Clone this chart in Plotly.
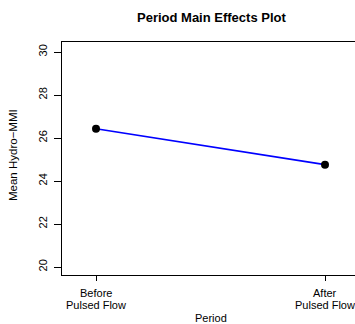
import plotly.graph_objects as go

# Group means of the Hydro-MMI index for each flow period
periods = ["Before\nPulsed Flow", "After\nPulsed Flow"]
positions = [1, 2]
means = [26.43, 24.76]
y_ticks = [20, 22, 24, 26, 28, 30]

W, H = 355, 324
L, R, T, B = 62, 0, 42, 49
pw, ph = W - L - R, H - T - B

def px_x(p):
    return (p - L) / pw

def px_y(p):
    return (H - B - p) / ph

font = dict(family="Liberation Sans, Arial, sans-serif", color="black")

fig = go.Figure()
fig.add_trace(go.Scatter(
    x=positions, y=means, mode="lines",
    line=dict(color="#0000ff", width=1.6),
    hoverinfo="skip", showlegend=False,
))
fig.add_trace(go.Scatter(
    x=positions, y=means, mode="markers",
    marker=dict(color="black", size=8, line=dict(width=0)),
    showlegend=False,
))

# Two-line category labels under the x ticks, with tighter line spacing
# than plotly's default multi-line tick labels
label_annotations = []
for pos, label in zip(positions, periods):
    for i, line in enumerate(label.split("\n")):
        label_annotations.append(dict(
            text=line, x=pos, y=px_y(293 + 11.6 * i),
            xref="x", yref="paper", showarrow=False,
            xanchor="center", yanchor="middle", font=dict(size=11, **font),
        ))

fig.update_layout(
    width=W, height=H,
    margin=dict(l=L, r=R, t=T, b=B, pad=0),
    paper_bgcolor="white", plot_bgcolor="white",
    font=dict(size=11, **font),
    xaxis=dict(
        range=[0.8515, 2.131],
        tickvals=positions, showticklabels=False,
        ticks="outside", ticklen=5, tickcolor="black", tickwidth=1,
        showline=True, linecolor="black", linewidth=1, mirror=True,
        showgrid=False, zeroline=False,
    ),
    yaxis=dict(
        range=[19.628, 30.465],
        tickvals=y_ticks,
        ticks="outside", ticklen=7, tickcolor="black", tickwidth=1,
        tickangle=-90,
        ticklabelstandoff=3,
        showline=True, linecolor="black", linewidth=1, mirror=False,
        showgrid=False, zeroline=False,
        tickfont=dict(size=11, **font),
    ),
    annotations=label_annotations + [
        dict(text="<b>Period Main Effects Plot</b>", x=px_x(211), y=px_y(18),
             xref="paper", yref="paper", showarrow=False,
             xanchor="center", yanchor="middle", font=dict(size=13, **font)),
        dict(text="Period", x=px_x(211), y=px_y(318),
             xref="paper", yref="paper", showarrow=False,
             xanchor="center", yanchor="middle", font=dict(size=11, **font)),
        dict(text="Mean Hydro\u2212MMI", x=px_x(13), y=px_y(155),
             xref="paper", yref="paper", showarrow=False, textangle=-90,
             xanchor="center", yanchor="middle", font=dict(size=11.5, **font)),
    ],
)

fig.write_html("out.html")
